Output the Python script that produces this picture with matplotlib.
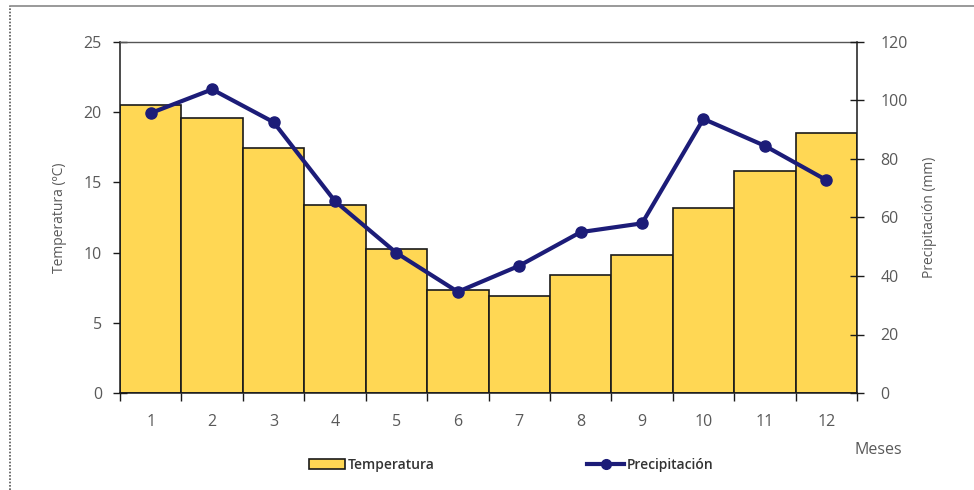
import matplotlib
matplotlib.use("Agg")
import matplotlib.pyplot as plt
from matplotlib.patches import Patch
from matplotlib.lines import Line2D

months = [1, 2, 3, 4, 5, 6, 7, 8, 9, 10, 11, 12]
temperatura = [20.5, 19.6, 17.45, 13.4, 10.25, 7.35, 6.9, 8.4, 9.85, 13.15, 15.8, 18.5]
precipitacion = [95.7, 103.8, 92.6, 65.6, 47.9, 34.6, 43.5, 55.0, 58.0, 93.7, 84.5, 72.8]
temp_ticks = [0, 5, 10, 15, 20, 25]
prec_ticks = [0, 20, 40, 60, 80, 100, 120]

plt.rcParams['font.family'] = ['Open Sans', 'DejaVu Sans']
gray = '#595959'

fig = plt.figure(figsize=(9.74, 4.9), dpi=100)
ax = fig.add_axes([120/974, 1-393/490, (857-120)/974, (393-42)/490])

ax.bar(months, temperatura, width=1.0, color='#FFD754', edgecolor='#1a1a1a', linewidth=1.2, zorder=2)
ax.set_xlim(0.5, 12.5)
ax.set_ylim(0, 25)
ax.set_yticks(temp_ticks)
ax.set_xticks(months)
ax.set_xticks([m + 0.5 for m in [0] + months], minor=True)
ax.tick_params(axis='x', which='major', length=0, pad=15, labelsize=11.5, labelcolor=gray)
ax.tick_params(axis='x', which='minor', length=6, direction='out', width=1, color='#1a1a1a')
ax.tick_params(axis='y', length=10, direction='inout', width=1, color='#1a1a1a', labelsize=11.5, labelcolor=gray, pad=8)
ax.set_ylabel('Temperatura (ºC)', fontsize=10, color=gray, labelpad=12)
for s in ['left', 'right', 'bottom']:
    ax.spines[s].set_color('#1a1a1a')
    ax.spines[s].set_linewidth(1.1)
ax.spines['top'].set_color('#555555')
ax.spines['top'].set_linewidth(1.0)

ax2 = ax.twinx()
ax2.plot(months, precipitacion, color='#1c1c78', linewidth=3, marker='o', markersize=8, zorder=3)
ax2.set_ylim(0, 120)
ax2.set_yticks(prec_ticks)
ax2.tick_params(axis='y', length=10, direction='inout', width=1, color='#1a1a1a', labelsize=11.5, labelcolor=gray, pad=12)
ax2.set_ylabel('Precipitación (mm)', fontsize=10, color=gray, labelpad=10)
for s in ax2.spines.values():
    s.set_visible(False)

fig.text(878/974, 1-450/490, 'Meses', fontsize=11.5, color=gray, ha='center', va='center')

h1 = Patch(facecolor='#FFD754', edgecolor='#1a1a1a', linewidth=1.2)
h2 = Line2D([0], [0], color='#1c1c78', linewidth=3, marker='o', markersize=7)
fig.legend([h1, h2], ['Temperatura', 'Precipitación'], ncol=2, frameon=False,
           loc='center', bbox_to_anchor=(511/974, 1-465/490), columnspacing=11,
           handlelength=2.6, handletextpad=0.2, prop={'size': 10, 'weight': 'semibold'},
           labelcolor='#333333')

# chart border
fig.add_artist(Line2D([10/974, 10/974], [0, 1-6/490], transform=fig.transFigure, color='#555555', linestyle=(0, (1, 1)), linewidth=1.2))
fig.add_artist(Line2D([10/974, 1], [1-6/490, 1-6/490], transform=fig.transFigure, color='#888888', linewidth=1.2))

fig.savefig('out.png', dpi=100)
